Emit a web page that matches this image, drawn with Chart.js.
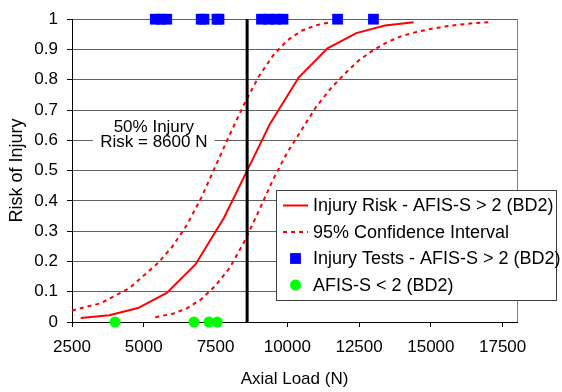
<!DOCTYPE html>
<html>
<head>
<meta charset="utf-8">
<script src="https://cdn.jsdelivr.net/npm/chart.js@4/dist/chart.umd.min.js"></script>
<style>
html,body{margin:0;padding:0;background:#fff;}
#wrap{width:562px;height:392px;position:relative;}
</style>
</head>
<body>
<div id="wrap"><canvas id="c" width="562" height="392"></canvas></div>
<script>
// ---- data ----
const xTickLabels = [2500, 5000, 7500, 10000, 12500, 15000, 17500];
const yTickLabels = [0, 0.1, 0.2, 0.3, 0.4, 0.5, 0.6, 0.7, 0.8, 0.9, 1];

const riskLoads  = [2800, 3800, 4800, 5800, 6800, 7800, 8600, 9400, 10400, 11400, 12400, 13400, 14400];
const riskValues = [0.013, 0.022, 0.046, 0.096, 0.19, 0.345, 0.5, 0.655, 0.808, 0.904, 0.954, 0.979, 0.99];

const upperCILoads  = [2500, 3500, 4500, 5500, 6000, 6500, 7000, 7500, 8000, 8500, 9000, 9500, 10000, 10500, 11000, 11500];
const upperCIValues = [0.038, 0.062, 0.112, 0.195, 0.25, 0.32, 0.41, 0.515, 0.62, 0.72, 0.81, 0.88, 0.93, 0.962, 0.98, 0.99];

const lowerCILoads  = [5400, 6000, 6500, 7000, 7500, 8000, 8500, 9000, 9500, 10000, 10500, 11000, 11500, 12000, 12500, 13000, 13500, 14000, 14500, 15000, 15500, 16000, 16500, 17000];
const lowerCIValues = [0.016, 0.027, 0.045, 0.075, 0.12, 0.18, 0.265, 0.365, 0.47, 0.56, 0.635, 0.71, 0.77, 0.82, 0.865, 0.898, 0.925, 0.945, 0.958, 0.968, 0.976, 0.982, 0.987, 0.99];

const injuryTestLoads = [5400, 5600, 5800, 7000, 7100, 7550, 7620, 9100, 9350, 9600, 9850, 11750, 13000];
const injuryTestRisk  = [1, 1, 1, 1, 1, 1, 1, 1, 1, 1, 1, 1, 1];

const nonInjuryLoads = [4000, 6750, 7270, 7560];
const nonInjuryRisk  = [0, 0, 0, 0];

const fiftyPercentLoads = [8600, 8600];
const fiftyPercentRisk  = [0, 1];

const seriesLabels = ['Injury Risk - AFIS-S > 2 (BD2)', '95% Confidence Interval', 'Injury Tests - AFIS-S > 2 (BD2)', 'AFIS-S < 2 (BD2)'];
const annotationLines = ['50% Injury', 'Risk = 8600 N'];
const xTitle = 'Axial Load (N)';
const yTitle = 'Risk of Injury';

// ---- helpers ----
const pts = (xs, ys) => xs.map((x, i) => ({x: x, y: ys[i]}));
const FONT = '"Liberation Sans", Arial, sans-serif';
const RED = '#ff0000', BLUE = '#0000ff', GREEN = '#00ff00';

const frame = {
  id: 'frame',
  beforeDatasetsDraw(chart) {
    const {ctx, chartArea: a} = chart;
    ctx.save();
    ctx.strokeStyle = '#808080';
    ctx.lineWidth = 1;
    ctx.beginPath();
    ctx.moveTo(Math.round(a.right) + 0.5, a.top);
    ctx.lineTo(Math.round(a.right) + 0.5, a.bottom);
    ctx.stroke();
    // annotation with white background
    const xs = chart.scales.x, ys = chart.scales.y;
    const cx = xs.getPixelForValue(5350);
    const gy = ys.getPixelForValue(0.6);
    ctx.fillStyle = '#fff';
    ctx.fillRect(cx - 61, gy - 24, 122, 36);
    ctx.fillStyle = '#000';
    ctx.font = '17px ' + FONT;
    ctx.textAlign = 'center';
    ctx.textBaseline = 'alphabetic';
    ctx.fillText(annotationLines[0], cx, gy - 8);
    ctx.fillText(annotationLines[1], cx, gy + 7);
    ctx.restore();
  }
};

const customLegend = {
  id: 'customLegend',
  afterDraw(chart) {
    const ctx = chart.ctx;
    const L = 276.5, T = 190.5, R = 556.5, B = 300.5;
    ctx.save();
    ctx.fillStyle = '#fff';
    ctx.fillRect(L, T, R - L, B - T);
    ctx.strokeStyle = '#404040';
    ctx.lineWidth = 1;
    ctx.strokeRect(L, T, R - L, B - T);
    const rows = [205.5, 232, 258.5, 285];
    const sx0 = 283, sx1 = 308, sc = 295.5, tx = 313;
    ctx.strokeStyle = RED; ctx.lineWidth = 2;
    ctx.beginPath(); ctx.moveTo(sx0, rows[0]); ctx.lineTo(sx1, rows[0]); ctx.stroke();
    ctx.setLineDash([4, 4]);
    ctx.beginPath(); ctx.moveTo(sx0, rows[1]); ctx.lineTo(sx1, rows[1]); ctx.stroke();
    ctx.setLineDash([]);
    ctx.fillStyle = BLUE;
    ctx.fillRect(sc - 5.4, rows[2] - 5.4, 10.8, 10.8);
    ctx.fillStyle = GREEN;
    ctx.beginPath(); ctx.arc(sc, rows[3], 5.5, 0, Math.PI * 2); ctx.fill();
    ctx.fillStyle = '#000';
    ctx.font = '18px ' + FONT;
    ctx.textAlign = 'left';
    ctx.textBaseline = 'middle';
    seriesLabels.forEach((t, i) => ctx.fillText(t, tx, rows[i] + 1));
    ctx.restore();
  }
};

Chart.defaults.color = '#000';
Chart.defaults.font.family = FONT;

new Chart(document.getElementById('c'), {
  type: 'scatter',
  data: {
    datasets: [
      {label: 'fifty', data: pts(fiftyPercentLoads, fiftyPercentRisk), showLine: true, borderColor: '#000', borderWidth: 3, pointRadius: 0, clip: false},
      {label: seriesLabels[1], data: pts(upperCILoads, upperCIValues), showLine: true, borderColor: RED, borderWidth: 2, borderDash: [4, 4], pointRadius: 0, clip: false},
      {label: seriesLabels[1] + ' lower', data: pts(lowerCILoads, lowerCIValues), showLine: true, borderColor: RED, borderWidth: 2, borderDash: [4, 4], pointRadius: 0, clip: false},
      {label: seriesLabels[0], data: pts(riskLoads, riskValues), showLine: true, borderColor: RED, borderWidth: 2, pointRadius: 0, clip: false},
      {label: seriesLabels[2], data: pts(injuryTestLoads, injuryTestRisk), pointStyle: 'rect', pointRadius: 7.6, backgroundColor: BLUE, borderWidth: 0, clip: false},
      {label: seriesLabels[3], data: pts(nonInjuryLoads, nonInjuryRisk), pointStyle: 'circle', pointRadius: 5.5, backgroundColor: GREEN, borderWidth: 0, clip: false}
    ]
  },
  options: {
    responsive: false,
    animation: false,
    devicePixelRatio: 1,
    layout: {padding: {left: 0, right: 45, top: 17, bottom: 0}},
    plugins: {legend: {display: false}, tooltip: {enabled: false}},
    elements: {line: {tension: 0}},
    scales: {
      x: {
        type: 'linear', min: 2500, max: 18000,
        afterBuildTicks: s => { s.ticks = xTickLabels.map(v => ({value: v})); },
        afterFit: s => { s.height = 70; },
        ticks: {font: {size: 17}, padding: 10, maxRotation: 0, autoSkip: false, callback: v => String(v)},
        grid: {drawOnChartArea: false, drawTicks: true, tickLength: 5, color: '#000'},
        border: {color: '#000', width: 1},
        title: {display: true, text: xTitle, font: {size: 17}, padding: {top: 0, bottom: 2}}
      },
      y: {
        type: 'linear', min: 0, max: 1,
        afterBuildTicks: s => { s.ticks = yTickLabels.map(v => ({value: v})); },
        afterFit: s => { s.width = 72; },
        ticks: {font: {size: 17}, padding: 9, autoSkip: false, callback: v => String(v)},
        grid: {color: '#606060', tickColor: '#000', drawTicks: true, tickLength: 5},
        border: {color: '#000', width: 1},
        title: {display: true, text: yTitle, font: {size: 18}, padding: {top: 6, bottom: 0}}
      }
    }
  },
  plugins: [frame, customLegend]
});
</script>
</body>
</html>
